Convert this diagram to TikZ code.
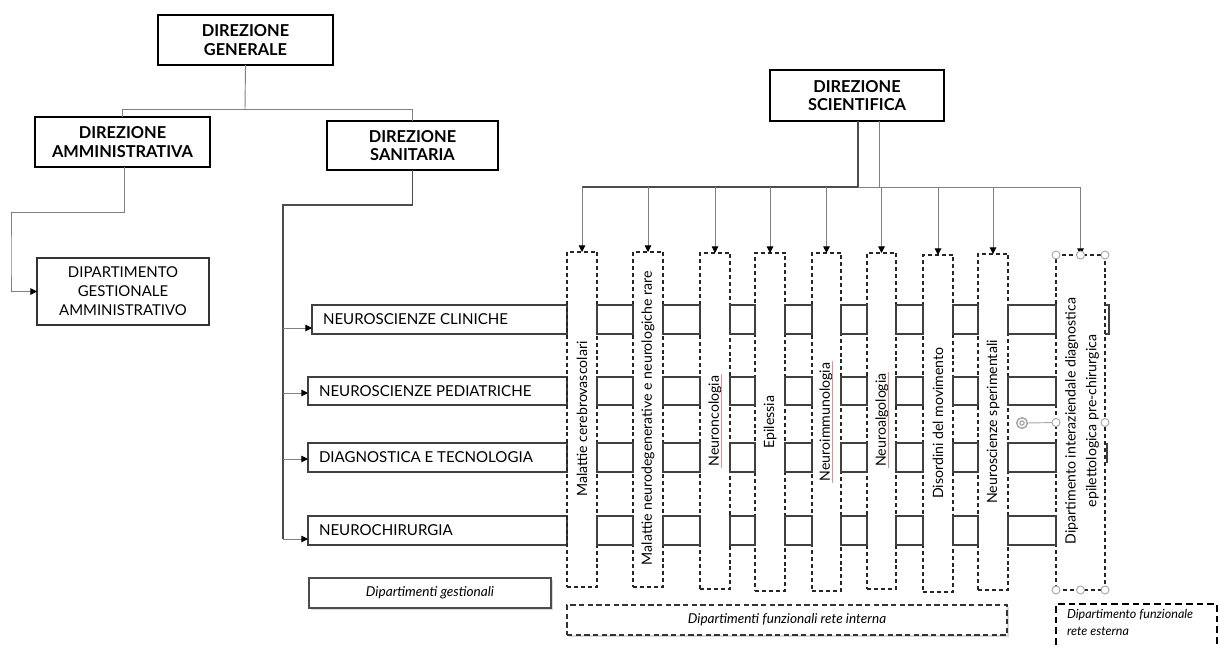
\documentclass[tikz,border=0pt]{standalone}
\usepackage{fontspec}
\setmainfont{Lato}
\usetikzlibrary{arrows.meta,fit,shadows}
\begin{document}
\begin{tikzpicture}[x=0.75pt,y=-0.75pt,
  every node/.style={inner sep=0pt, outer sep=0pt},
  hdr/.style={draw, line width=1.8pt},
  hdrtxt/.style={align=center, font=\bfseries\fontsize{12.3}{13.8}\selectfont},
  thinbox/.style={draw=black!80, line width=0.8pt},
  thintxt/.style={align=center, font=\fontsize{11.2}{14.25}\selectfont},
  lbl/.style={font=\fontsize{11.3}{13}\selectfont},
  colbox/.style={draw=black!85, line width=0.9pt, dash pattern=on 3pt off 2.2pt},
  coltxt/.style={font=\fontsize{10.6}{15.5}\selectfont, align=center, inner sep=0.8pt},
  conn/.style={draw=black!50, line width=0.7pt},
  darkconn/.style={draw=black!70, line width=1pt},
  arr/.style={conn, -{Triangle[length=5pt,width=5pt,color=black]}},
  rowline/.style={draw=black!75, line width=0.8pt},
  spell/.style={draw={rgb,255:red,240;green,140;blue,140}, line width=0.7pt},
  handle/.style={draw=black!35, fill=white, line width=0.7pt},
  legendtxt/.style={font=\itshape\fontsize{10.2}{12}\selectfont}
]
\useasboundingbox (0,0) rectangle (1219,644);
\clip (0,0) rectangle (1219,644);

% --- top management boxes
\node[hdr, fit={(158,15) (333,65)}] (dg) {};
\node[hdr, fit={(35,117) (210,167)}] (da) {};
\node[hdr, fit={(327,121) (498,170)}] (ds) {};
\node[hdr, fit={(770,70) (944,121)}] (dsci) {};
\node[thinbox, fit={(37,258) (209,325)}] (dga) {};
\node[hdrtxt] (dgt) at (dg.center) {DIREZIONE\\GENERALE};
\node[hdrtxt] (dat) at (da.center) {DIREZIONE\\AMMINISTRATIVA};
\node[hdrtxt] (dst) at (ds.center) {DIREZIONE\\SANITARIA};
\node[hdrtxt] (dscit) at (dsci.center) {DIREZIONE\\SCIENTIFICA};
\node[thintxt] (dgat) at (dga.center) {DIPARTIMENTO\\GESTIONALE\\AMMINISTRATIVO};

% --- connectors of the top
\coordinate (j1) at (245,109);
\draw[conn] (dg.south) -- (j1);
\draw[conn] (j1) -| (da.north);
\draw[conn] (j1) -| (ds.north);

\coordinate (ja) at (124,212);
\draw[arr] (da.south -| ja) -- (ja) -| (11,260) |- (dga.west);

\coordinate (jd) at (283,205);
\draw[darkconn] (ds.south) |- (jd) -- (283,539);

% --- row boxes (gestional departments)
\node[rowline, fit={(312,305) (567,334)}] (r1) {};
\node[rowline, fit={(308,377) (567,405)}] (r2) {};
\node[rowline, fit={(308,443) (567,472)}] (r3) {};
\node[rowline, fit={(308,516) (567,545)}] (r4) {};
\node[lbl, anchor=west] (r1t) at ([xshift=8.25pt]r1.west) {NEUROSCIENZE CLINICHE};
\node[lbl, anchor=west] (r2t) at ([xshift=8.25pt]r2.west) {NEUROSCIENZE PEDIATRICHE};
\node[lbl, anchor=west] (r3t) at ([xshift=8.25pt]r3.west) {DIAGNOSTICA E TECNOLOGIA};
\node[lbl, anchor=west] (r4t) at ([xshift=8.25pt]r4.west) {NEUROCHIRURGIA};

\coordinate (t1) at (283,328);
\coordinate (t2) at (283,393);
\coordinate (t3) at (283,459);
\coordinate (t4) at (283,539);
\foreach \t/\r in {t1/r1,t2/r2,t3/r3,t4/r4}{
  \draw[arr] (\t) -- (\t -| \r.west);
}

% --- functional department columns
\node[colbox, fit={(567,252) (597,587)}] (c1) {};
\node[colbox, fit={(633,252) (663,587)}] (c2) {};
\node[colbox, fit={(700,253) (730,589)}] (c3) {};
\node[colbox, fit={(755,253) (785,591)}] (c4) {};
\node[colbox, fit={(812,253) (841,591)}] (c5) {};
\node[colbox, fit={(867,253) (896,589)}] (c6) {};
\node[colbox, fit={(923,255) (953,592)}] (c7) {};
\node[colbox, fit={(978,254) (1008,590)}] (c8) {};
\node[colbox, fit={(1056,255) (1105,590)}] (c9) {};

% row lines continuing between the columns
\foreach \r in {r1,r2,r3,r4}{
  \foreach \i [evaluate=\i as \j using int(\i+1)] in {1,...,8}{
    \draw[rowline] (c\i.east |- \r.north) rectangle (c\j.west |- \r.south);
  }
}
\draw[rowline] (1105,305) -- (1109,305) -- (1109,334) -- (1105,334);
\draw[draw=black!75, line width=1.3pt] (1107,443) -- (1107,463);

% column texts
\node[coltxt, rotate=90] (c1t) at (582,419) {Malattie cerebrovascolari};
\node[coltxt, rotate=90] (c2t) at (648,418) {Malattie neurodegenerative e neurologiche rare};
\node[coltxt, rotate=90] (c3t) at (715,421) {Neuroncologia};
\node[coltxt, rotate=90] (c4t) at (770,422) {Epilessia};
\node[coltxt, rotate=90] (c5t) at (826,422) {Neuroimmunologia};
\node[coltxt, rotate=90] (c6t) at (882,420) {Neuroalgologia};
\node[coltxt, rotate=90] (c7t) at (938,423) {Disordini del movimento};
\node[coltxt, rotate=90] (c8t) at (993,422) {Neuroscienze sperimentali};
\node[coltxt, rotate=90] (c9t) at (1082,421) {Dipartimento interaziendale diagnostica\\epilettologica pre-chirurgica};
\draw[spell] (721,374) -- (721,468);
\draw[spell] (832,361) -- (832,483);
\draw[spell] (888,372) -- (888,468);

% --- scientific direction bus and arrows
\coordinate (bl) at (858,187);
\coordinate (br) at (879,187);
\draw[darkconn] (dsci.south -| bl) -- (bl);
\draw[conn] (dsci.south -| br) -- (br);
\draw[darkconn] (bl) -- (c1.north |- bl);
\draw[conn] (bl) -- (c9.north |- bl);
\foreach \c in {c1,c2,c3,c4,c5,c6,c7,c8,c9}{
  \draw[arr] (\c.north |- bl) -- (\c.north);
}

% selection handles of the external column
\draw[draw=black!35, line width=0.7pt] (1027,423) -- (c9.west);
\foreach \p in {(c9.north west),(c9.north),(c9.north east),(c9.west),(c9.east),(c9.south west),(c9.south),(c9.south east)}{
  \draw[handle] \p circle (3pt);
}
\coordinate (rot) at (1022,423);
\draw[draw=black!35, line width=1.1pt] (rot) circle (4pt);
\draw[draw=black!35, line width=0.9pt] (rot) circle (1.6pt);

% --- legends
\node[draw=black!70, line width=1.3pt, fill=white,
      drop shadow={shadow xshift=1.2pt, shadow yshift=-1.2pt, opacity=0.3},
      fit={(309,578) (551,608)}] (lg) {};
\node[legendtxt] (lgt) at (lg.center) {Dipartimenti gestionali};
\node[draw=black!80, line width=1.2pt, dash pattern=on 4pt off 2.5pt, fill=white,
      drop shadow={shadow xshift=1.2pt, shadow yshift=-1.2pt, opacity=0.3},
      fit={(567,605) (1007,635)}] (lfi) {};
\node[legendtxt] (lfit) at (lfi.center) {Dipartimenti funzionali rete interna};
\node[draw=black, line width=1.6pt, dash pattern=on 5pt off 3pt, fill=white,
      fit={(1056,604) (1217,664)}] (lfe) {};
\node[font=\itshape\fontsize{9.4}{12.75}\selectfont, align=left, anchor=north west]
  (lfet) at (1067,609) {Dipartimento funzionale\\rete esterna};
\end{tikzpicture}
\end{document}
